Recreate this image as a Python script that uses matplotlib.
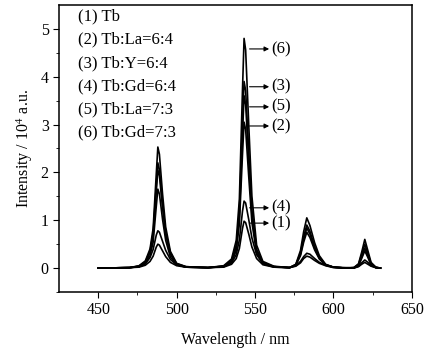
import matplotlib
matplotlib.use("Agg")
from matplotlib import pyplot as plt

plt.rcParams['font.family'] = ['Liberation Serif', 'DejaVu Serif']
plt.rcParams['mathtext.fontset'] = 'stix'

### Emission spectra (intensity in 10^4 a.u.)

wavelength = [450, 470, 476, 480, 483, 485, 487, 488, 489, 491, 493, 496, 500, 506, 520,
              530, 535, 538, 540, 542, 543, 544, 546, 548, 551, 555, 562,
              572, 576, 579, 581, 583, 585, 588, 591, 595, 600, 608,
              613, 616, 618, 620, 622, 624, 627, 630]

tb = [0, 0.01, 0.02, 0.06, 0.14, 0.25, 0.44, 0.50, 0.48, 0.36, 0.24, 0.12, 0.05, 0.02, 0.01,
      0.02, 0.08, 0.20, 0.41, 0.83, 0.98, 0.95, 0.71, 0.44, 0.20, 0.07, 0.02,
      0.01, 0.04, 0.11, 0.20, 0.25, 0.23, 0.16, 0.10, 0.05, 0.01, 0.0,
      0.0, 0.03, 0.08, 0.12, 0.08, 0.04, 0.01, 0.0]
tb_la_64 = [0, 0.01, 0.03, 0.10, 0.26, 0.54, 1.29, 1.65, 1.55, 1.02, 0.58, 0.23, 0.07, 0.02, 0.01,
            0.03, 0.12, 0.37, 0.92, 2.38, 3.05, 2.90, 1.90, 0.95, 0.31, 0.09, 0.02,
            0.01, 0.06, 0.26, 0.54, 0.75, 0.64, 0.38, 0.19, 0.06, 0.02, 0.0,
            0.0, 0.05, 0.20, 0.36, 0.22, 0.07, 0.01, 0.0]
tb_y_64 = [0, 0.01, 0.04, 0.13, 0.35, 0.73, 1.72, 2.20, 2.06, 1.35, 0.75, 0.31, 0.09, 0.03, 0.01,
           0.04, 0.16, 0.47, 1.17, 3.04, 3.90, 3.71, 2.42, 1.21, 0.39, 0.12, 0.03,
           0.01, 0.07, 0.32, 0.65, 0.90, 0.77, 0.45, 0.23, 0.07, 0.02, 0.0,
           0.01, 0.08, 0.28, 0.50, 0.30, 0.10, 0.02, 0.0]
tb_gd_64 = [0, 0.01, 0.03, 0.09, 0.22, 0.39, 0.69, 0.78, 0.75, 0.56, 0.37, 0.18, 0.07, 0.02, 0.01,
            0.03, 0.11, 0.28, 0.59, 1.19, 1.40, 1.36, 1.01, 0.63, 0.28, 0.10, 0.03,
            0.01, 0.05, 0.14, 0.24, 0.31, 0.29, 0.20, 0.12, 0.06, 0.02, 0.0,
            0.01, 0.04, 0.11, 0.17, 0.12, 0.05, 0.01, 0.0]
tb_la_73 = [0, 0.01, 0.04, 0.12, 0.33, 0.68, 1.60, 2.05, 1.93, 1.26, 0.70, 0.29, 0.08, 0.02, 0.01,
            0.04, 0.14, 0.43, 1.08, 2.81, 3.60, 3.42, 2.24, 1.12, 0.36, 0.11, 0.03,
            0.01, 0.07, 0.29, 0.60, 0.84, 0.71, 0.42, 0.21, 0.07, 0.02, 0.0,
            0.0, 0.06, 0.23, 0.42, 0.25, 0.08, 0.01, 0.0]
tb_gd_73 = [0, 0.01, 0.05, 0.15, 0.40, 0.83, 1.97, 2.53, 2.38, 1.55, 0.86, 0.35, 0.10, 0.03, 0.01,
            0.05, 0.19, 0.58, 1.44, 3.74, 4.80, 4.56, 2.98, 1.50, 0.48, 0.14, 0.04,
            0.01, 0.08, 0.37, 0.76, 1.05, 0.89, 0.53, 0.26, 0.08, 0.02, 0.01,
            0.01, 0.09, 0.33, 0.60, 0.36, 0.12, 0.02, 0.0]

series = [tb, tb_la_64, tb_y_64, tb_gd_64, tb_la_73, tb_gd_73]
names = ["(1) Tb", "(2) Tb:La=6:4", "(3) Tb:Y=6:4",
         "(4) Tb:Gd=6:4", "(5) Tb:La=7:3", "(6) Tb:Gd=7:3"]

# arrow labels at the 543 nm peak: label, height
peak_tags = ["(6)", "(3)", "(5)", "(2)", "(4)", "(1)"]
peak_tag_y = [4.58, 3.79, 3.37, 2.97, 1.26, 0.94]

fig = plt.figure(figsize=(4.25, 3.51), dpi=100)
ax = fig.add_axes([0.139, 0.168, 0.830, 0.818])

for s in series:
    ax.plot(wavelength, s, color='black', lw=1.2)

for i, name in enumerate(names):
    ax.text(0.055, 0.96 - i * 0.081, name, transform=ax.transAxes,
            fontsize=12, va='center', ha='left')

for tag, y in zip(peak_tags, peak_tag_y):
    ax.annotate("", xy=(559, y), xytext=(546.5, y),
                arrowprops=dict(arrowstyle='-|>', color='black', lw=0.8,
                                mutation_scale=7, shrinkA=0, shrinkB=0))
    ax.text(560.5, y, tag, fontsize=12, va='center', ha='left')

ax.set_xlim(425, 650)
ax.set_ylim(-0.5, 5.5)
ax.set_xticks([450, 500, 550, 600, 650])
ax.set_xticks([475, 525, 575, 625], minor=True)
ax.set_yticks([0, 1, 2, 3, 4, 5])
ax.set_yticks([-0.5, 0.5, 1.5, 2.5, 3.5, 4.5], minor=True)
ax.tick_params(which='both', direction='out', labelsize=11.5, top=False, right=False)
ax.tick_params(which='major', length=4)
ax.tick_params(which='minor', length=2.5)
ax.set_xlabel("Wavelength / nm", fontsize=11.5, labelpad=10)
ax.set_ylabel("Intensity / 10$^4$ a.u.", fontsize=11.5, labelpad=4)
for sp in ax.spines.values():
    sp.set_linewidth(1.1)

fig.savefig("out.png", dpi=100)
